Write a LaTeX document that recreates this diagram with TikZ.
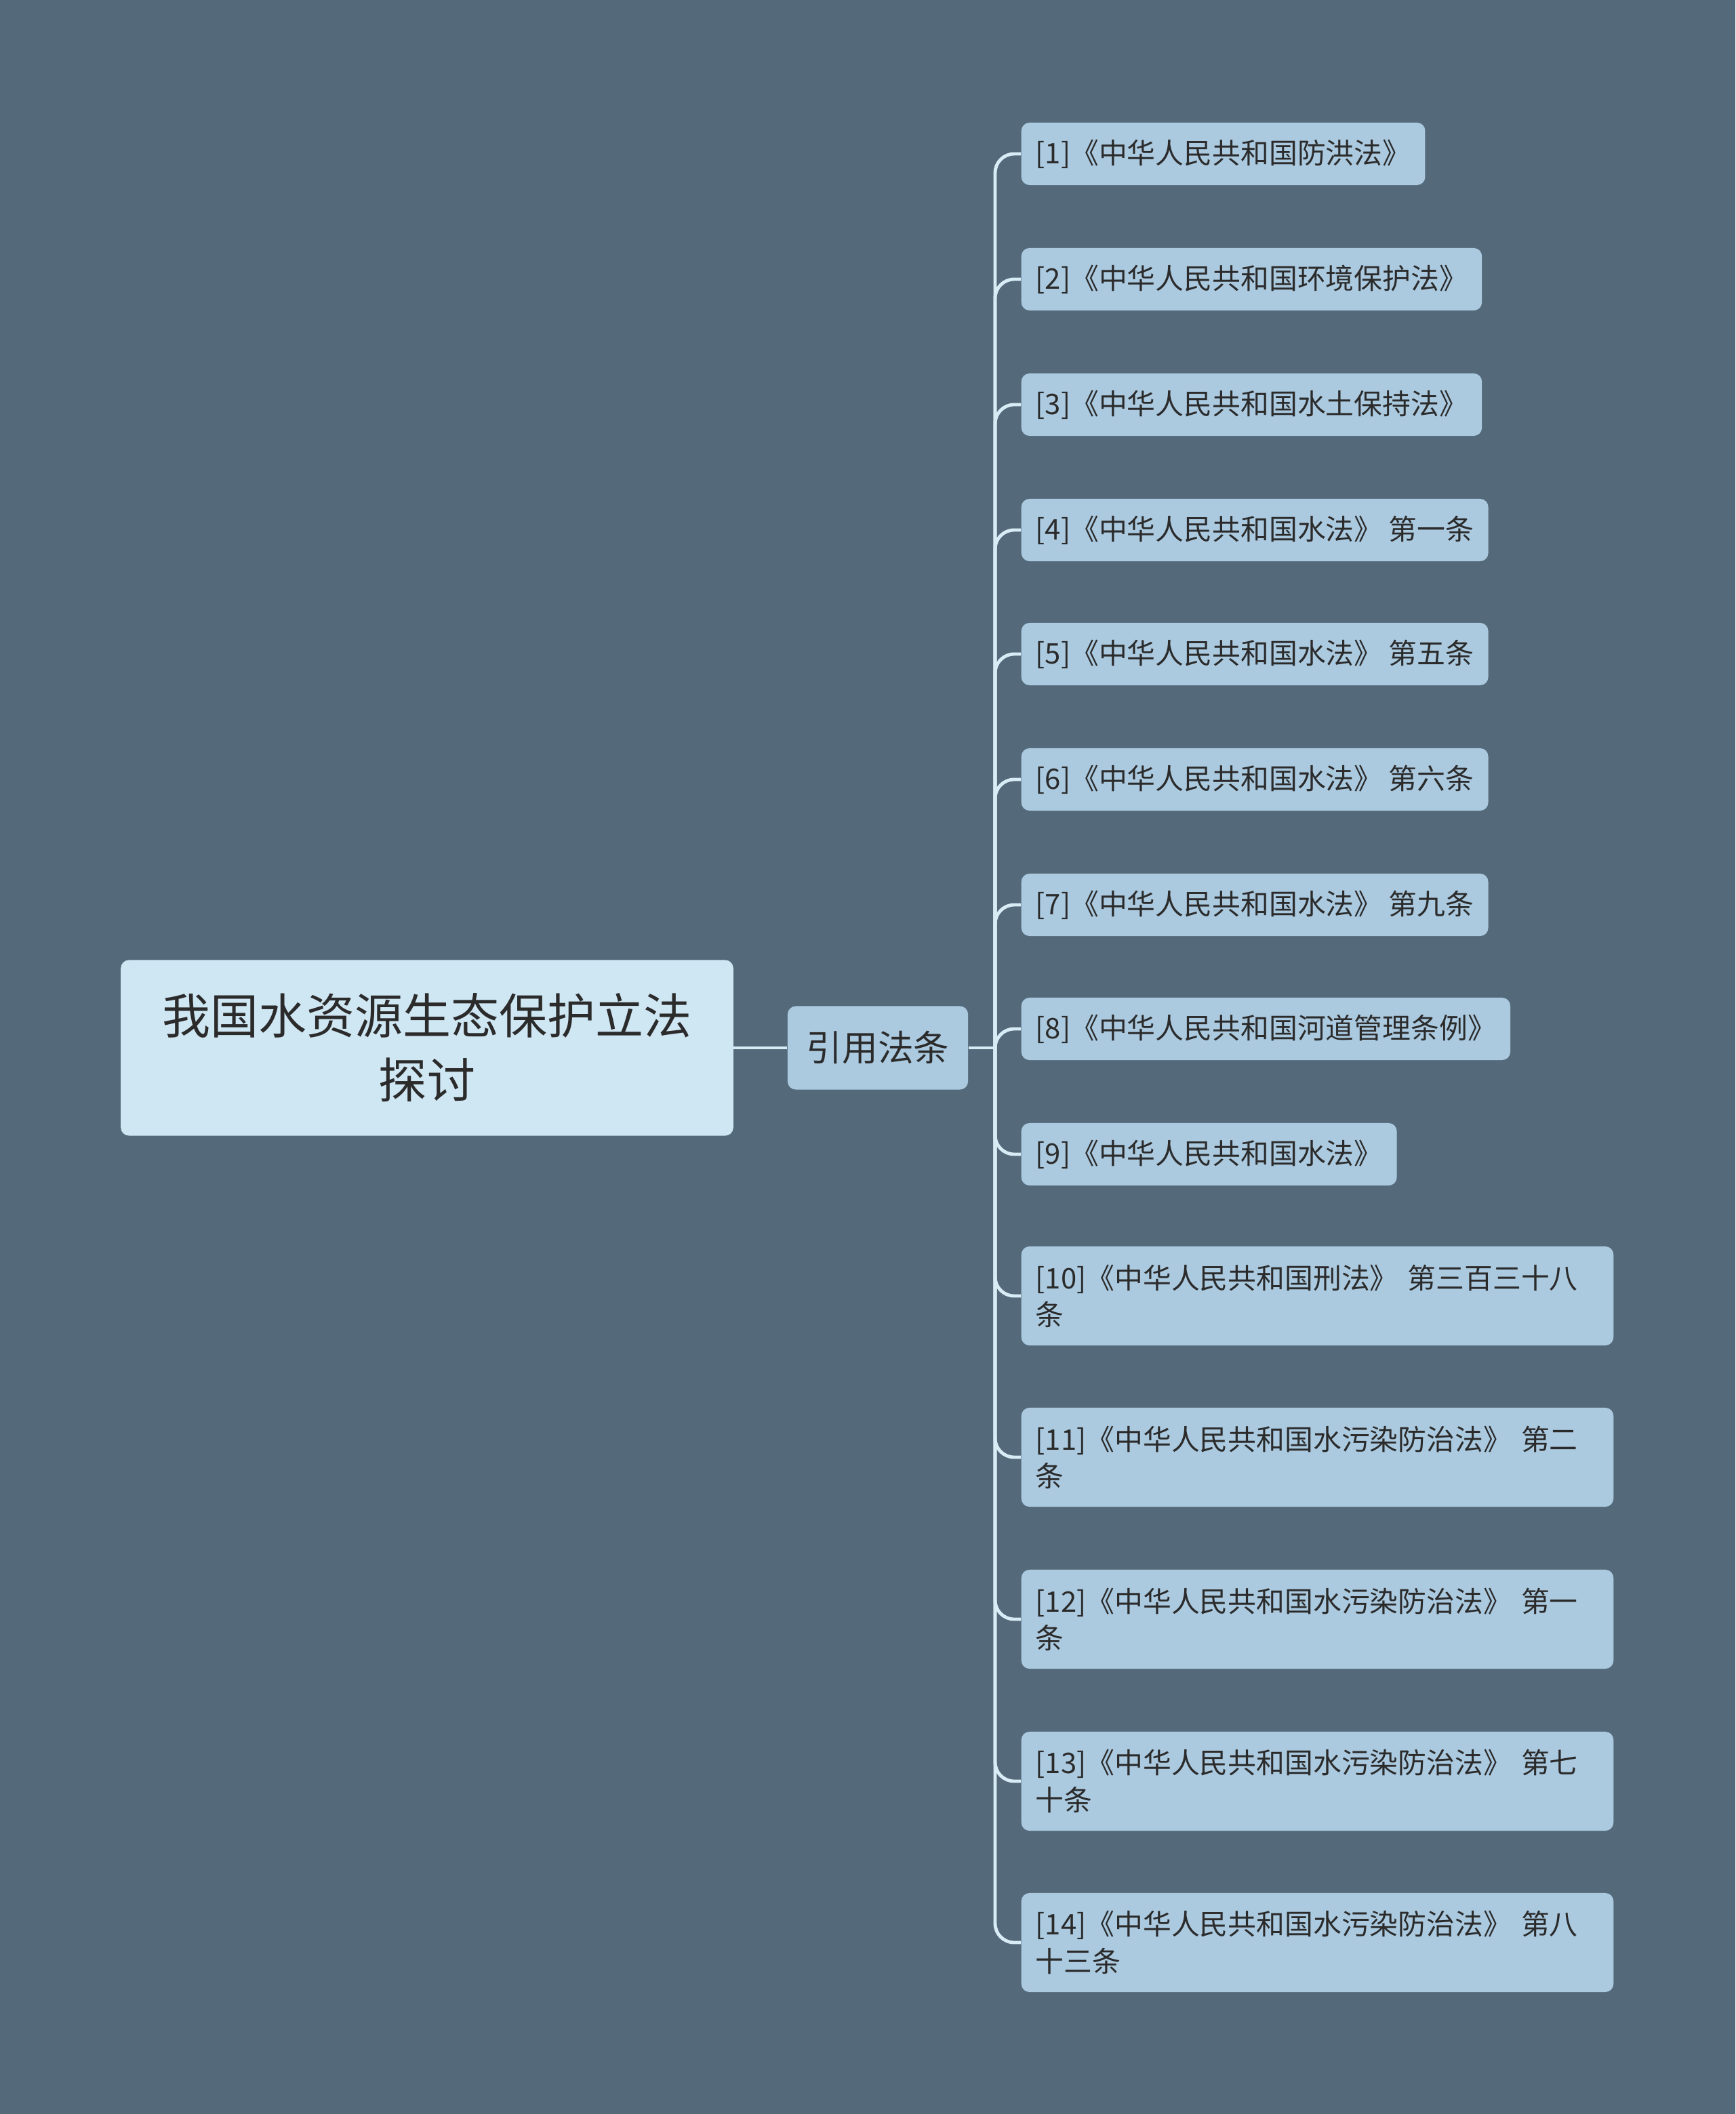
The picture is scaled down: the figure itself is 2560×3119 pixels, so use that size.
\documentclass[tikz,border=0pt]{standalone}
\usepackage{fontspec}
\setmainfont{Noto Sans CJK SC}
\usetikzlibrary{positioning}

\definecolor{bgslate}{HTML}{546A7B}
\definecolor{rootfill}{HTML}{CFE6F3}
\definecolor{leaffill}{HTML}{ABCAE0}
\definecolor{linkblue}{HTML}{D8ECF5}
\definecolor{inktext}{HTML}{2B2B2B}

\tikzset{
  rootbox/.style={fill=rootfill, rounded corners=3.4pt, text=inktext, align=center,
    minimum width=9.03cm, minimum height=2.59cm, font=\fontsize{20.2pt}{27pt}\selectfont},
  midbox/.style={fill=leaffill, rounded corners=3.4pt, text=inktext,
    minimum width=2.66cm, minimum height=1.23cm, font=\fontsize{15pt}{18pt}\selectfont},
  leafbox/.style={fill=leaffill, rounded corners=3.4pt, text=inktext, anchor=west,
    inner xsep=0.21cm, minimum height=0.92cm, font=\fontsize{11.9pt}{15.4pt}\selectfont},
  longleaf/.style={leafbox, text width=8.31cm, align=left, minimum height=1.46cm},
  link/.style={draw=linkblue, line width=1.4pt, rounded corners=8pt}
}

\begin{document}
\begin{tikzpicture}[x=0.01cm, y=-0.01cm]
				\fill[bgslate] (0,0) rectangle (2560,3119);
				\useasboundingbox (0,0) rectangle (2560,3119);
				% root and middle
				\node[rootbox] (root) at (630,1546) {我国水资源生态保护立法\\探讨};
				\node[midbox] (cite) at (1295,1546) {引用法条};
				\coordinate (trunk) at (1468,1546);
				\draw[link] (root.east) -- (cite.west);
				\draw[link] (cite.east) -- (trunk);
				% single line leaves
				\foreach \y/\txt [count=\i] in {227/{[1]《中华人民共和国防洪法》},
						412/{[2]《中华人民共和国环境保护法》},
						597/{[3]《中华人民共和国水土保持法》},
						782/{[4]《中华人民共和国水法》 第一条},
						965/{[5]《中华人民共和国水法》 第五条},
						1150/{[6]《中华人民共和国水法》 第六条},
						1335/{[7]《中华人民共和国水法》 第九条},
						1518/{[8]《中华人民共和国河道管理条例》},
						1703/{[9]《中华人民共和国水法》}} {
					\node[leafbox] (leaf\i) at (1506,\y) {\txt};
					\draw[link] (trunk) |- (leaf\i.west);
				}
				% two line leaves
				\node[longleaf] (leaf10) at (1506,1912) {[10]《中华人民共和国刑法》 第三百三十八\\条};
				\node[longleaf] (leaf11) at (1506,2150) {[11]《中华人民共和国水污染防治法》 第二\\条};
				\node[longleaf] (leaf12) at (1506,2389) {[12]《中华人民共和国水污染防治法》 第一\\条};
				\node[longleaf] (leaf13) at (1506,2628) {[13]《中华人民共和国水污染防治法》 第七\\十条};
				\node[longleaf] (leaf14) at (1506,2866) {[14]《中华人民共和国水污染防治法》 第八\\十三条};
				\foreach \i in {10,...,14}
					\draw[link] (trunk) |- (leaf\i.west);
			\end{tikzpicture}
\end{document}
